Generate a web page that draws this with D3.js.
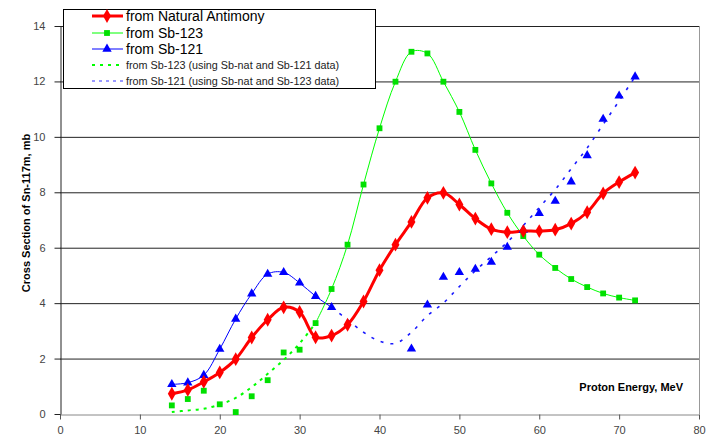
<!DOCTYPE html>
<html>
<head>
<meta charset="utf-8">
<script src="https://cdn.jsdelivr.net/npm/d3@7"></script>
<style>
body { margin: 0; background: #fff; }
svg { font-family: "Liberation Sans", Arial, sans-serif; }
.tick text { fill: #444; font-size: 11px; }
</style>
</head>
<body>
<svg id="chart" width="712" height="438"></svg>
<script>
// energies, MeV
var energy = d3.range(14, 73, 2);
// from natural antimony, 14..72
var natSb = [0.73, 0.87, 1.16, 1.5, 1.98, 2.76, 3.4, 3.85, 3.68, 2.77,
             2.83, 3.22, 4.06, 5.19, 6.11, 6.93, 7.8, 7.98, 7.56, 7.05,
             6.67, 6.56, 6.6, 6.6, 6.65, 6.87, 7.28, 7.96, 8.37, 8.71];
// from Sb-123 measured, 32..72
var sb123X = d3.range(32, 73, 2);
var sb123 = [3.28, 4.51, 6.11, 8.28, 10.31, 11.99, 13.07, 13.01, 11.99, 10.9,
             9.53, 8.32, 7.26, 6.42, 5.75, 5.27, 4.87, 4.58, 4.35, 4.2, 4.1];
// Sb-123 points from Sb-nat and Sb-121, 14..30
var sb123DerX = d3.range(14, 31, 2);
var sb123Der = [0.31, 0.54, 0.84, 0.35, 0.07, 0.64, 1.22, 2.22, 2.32];
var sb123CurveX = d3.range(14, 33, 2);
var sb123Curve = [0.07, 0.13, 0.19, 0.34, 0.58, 0.97, 1.45, 1.95, 2.55, 3.28];
// from Sb-121 measured, 14..34
var sb121X = d3.range(14, 35, 2);
var sb121 = [1.07, 1.13, 1.4, 2.34, 3.43, 4.34, 5.05, 5.11, 4.73, 4.25, 3.85];
// Sb-121 points from Sb-nat and Sb-123, 44..72
var sb121DerX = d3.range(44, 73, 2);
var sb121Der = [2.35, 3.94, 4.94, 5.11, 5.23, 5.48, 6.02, 6.64, 7.24, 7.68,
                8.38, 9.33, 10.64, 11.48, 12.17];
var sb121CurveX = d3.range(34, 73, 2);
var sb121Curve = [3.85, 3.4, 2.95, 2.63, 2.55, 2.95, 3.55, 4.0, 4.6, 5.17,
                  5.68, 6.2, 6.8, 7.45, 8.1, 8.85, 9.6, 10.45, 11.3, 12.17];

var xTicks = d3.range(0, 81, 10);
var yTicks = d3.range(0, 15, 2);

var svg = d3.select('#chart');
var x = d3.scaleLinear().domain([0, 80]).range([60, 699]);
var y = d3.scaleLinear().domain([0, 14]).range([414, 26]);

function pts(xs, ys) {
    return xs.map(function(d, i) { return [d, ys[i]]; });
}

// gridlines
svg.append('g').selectAll('line')
    .data(yTicks.filter(function(d) { return d > 0; }))
    .enter().append('line')
    .attr('x1', x(0)).attr('x2', x(80))
    .attr('y1', function(d) { return y(d) + 0.5; })
    .attr('y2', function(d) { return y(d) + 0.5; })
    .style('stroke', '#222').style('stroke-width', 1);

// right border
svg.append('line')
    .attr('x1', x(80) + 0.5).attr('x2', x(80) + 0.5)
    .attr('y1', y(14)).attr('y2', y(0))
    .style('stroke', '#999');

var xAxis = svg.append('g')
    .attr('transform', 'translate(0,' + (y(0) + 0.5) + ')')
    .call(d3.axisBottom(x).tickValues(xTicks).tickSize(5).tickSizeOuter(0).tickPadding(7));
xAxis.select('.domain').style('stroke', '#888');
xAxis.selectAll('.tick line').style('stroke', '#555');

var yAxis = svg.append('g')
    .attr('transform', 'translate(' + (x(0) + 0.5) + ',0)')
    .call(d3.axisLeft(y).tickValues(yTicks).tickSize(6).tickSizeOuter(0).tickPadding(9));
yAxis.select('.domain').style('stroke', '#222');
yAxis.selectAll('.tick line').style('stroke', '#222');

var line = d3.line()
    .x(function(d) { return x(d[0]); })
    .y(function(d) { return y(d[1]); })
    .curve(d3.curveCatmullRom);

var plot = svg.append('g');

// dashed derived curves
plot.append('path').datum(pts(sb123CurveX, sb123Curve))
    .attr('d', line).style('fill', 'none')
    .style('stroke', '#00ff00').style('stroke-width', 2).style('stroke-dasharray', '3,5');
plot.append('path').datum(pts(sb121CurveX, sb121Curve))
    .attr('d', line).style('fill', 'none')
    .style('stroke', '#1a1aff').style('stroke-width', 1.6).style('stroke-dasharray', '3,7');

// solid measured lines
plot.append('path').datum(pts(sb121X, sb121))
    .attr('d', line).style('fill', 'none')
    .style('stroke', '#0000ff').style('stroke-width', 1);
plot.append('path').datum(pts(sb123X, sb123))
    .attr('d', line).style('fill', 'none')
    .style('stroke', '#00ff00').style('stroke-width', 1);
plot.append('path').datum(pts(energy, natSb))
    .attr('d', line).style('fill', 'none')
    .style('stroke', '#ff0000').style('stroke-width', 3);

var square = d3.symbol().type(d3.symbolSquare).size(34);
var triangle = d3.symbol().type(d3.symbolTriangle).size(38);
var diamond = d3.symbol().type(d3.symbolDiamond).size(55);

function markers(data, sym, color) {
    plot.append('g').selectAll('path')
        .data(data)
        .enter().append('path')
        .attr('d', sym)
        .attr('transform', function(d) { return 'translate(' + x(d[0]) + ',' + y(d[1]) + ')'; })
        .style('fill', color);
}

markers(pts(sb123DerX, sb123Der), square, '#00e000');
markers(pts(sb123X, sb123), square, '#00e000');
markers(pts(sb121X, sb121), triangle, '#0000ff');
markers(pts(sb121DerX, sb121Der), triangle, '#0000ff');
markers(pts(energy, natSb), diamond, '#ff0000');

// legend
var legend = svg.append('g');
legend.append('rect')
    .attr('x', 63.5).attr('y', 9.5).attr('width', 312).attr('height', 79)
    .style('fill', '#fff').style('stroke', '#000');

var legendItems = [
    {label: 'from Natural Antimony', color: '#ff0000', width: 3, dash: null, sym: diamond, size: 14},
    {label: 'from Sb-123', color: '#00ff00', width: 1, dash: null, sym: square, size: 14},
    {label: 'from Sb-121', color: '#0000ff', width: 1, dash: null, sym: triangle, size: 14},
    {label: 'from Sb-123 (using Sb-nat and Sb-121 data)', color: '#00ff00', width: 2, dash: '3,5', sym: null, size: 10.8},
    {label: 'from Sb-121 (using Sb-nat and Sb-123 data)', color: '#3333ff', width: 1, dash: '3,4', sym: null, size: 10.8}
];
var rowY = [16, 33, 49, 65, 81];

var item = legend.selectAll('.item')
    .data(legendItems)
    .enter().append('g')
    .attr('class', 'item')
    .attr('transform', function(d, i) { return 'translate(0,' + rowY[i] + ')'; });

item.append('line')
    .attr('x1', 92).attr('x2', 123)
    .style('stroke', function(d) { return d.color; })
    .style('stroke-width', function(d) { return d.width; })
    .style('stroke-dasharray', function(d) { return d.dash; });

item.filter(function(d) { return d.sym; })
    .append('path')
    .attr('d', function(d) { return d.sym(); })
    .attr('transform', 'translate(107,0)')
    .style('fill', function(d) { return d.color === '#00ff00' ? '#00e000' : d.color; });

item.append('text')
    .attr('x', 126).attr('dy', '0.36em')
    .style('font-size', function(d) { return d.size + 'px'; })
    .style('fill', function(d) { return d.size > 11 ? '#000' : '#222'; })
    .text(function(d) { return d.label; });

// axis titles
svg.append('text')
    .attr('transform', 'translate(30,213) rotate(-90)')
    .attr('text-anchor', 'middle')
    .style('font-size', '11px').style('font-weight', 'bold')
    .text('Cross Section of Sn-117m, mb');

svg.append('text')
    .attr('x', 683).attr('y', 391)
    .attr('text-anchor', 'end')
    .style('font-size', '11px').style('font-weight', 'bold')
    .text('Proton Energy, MeV');
</script>
</body>
</html>
